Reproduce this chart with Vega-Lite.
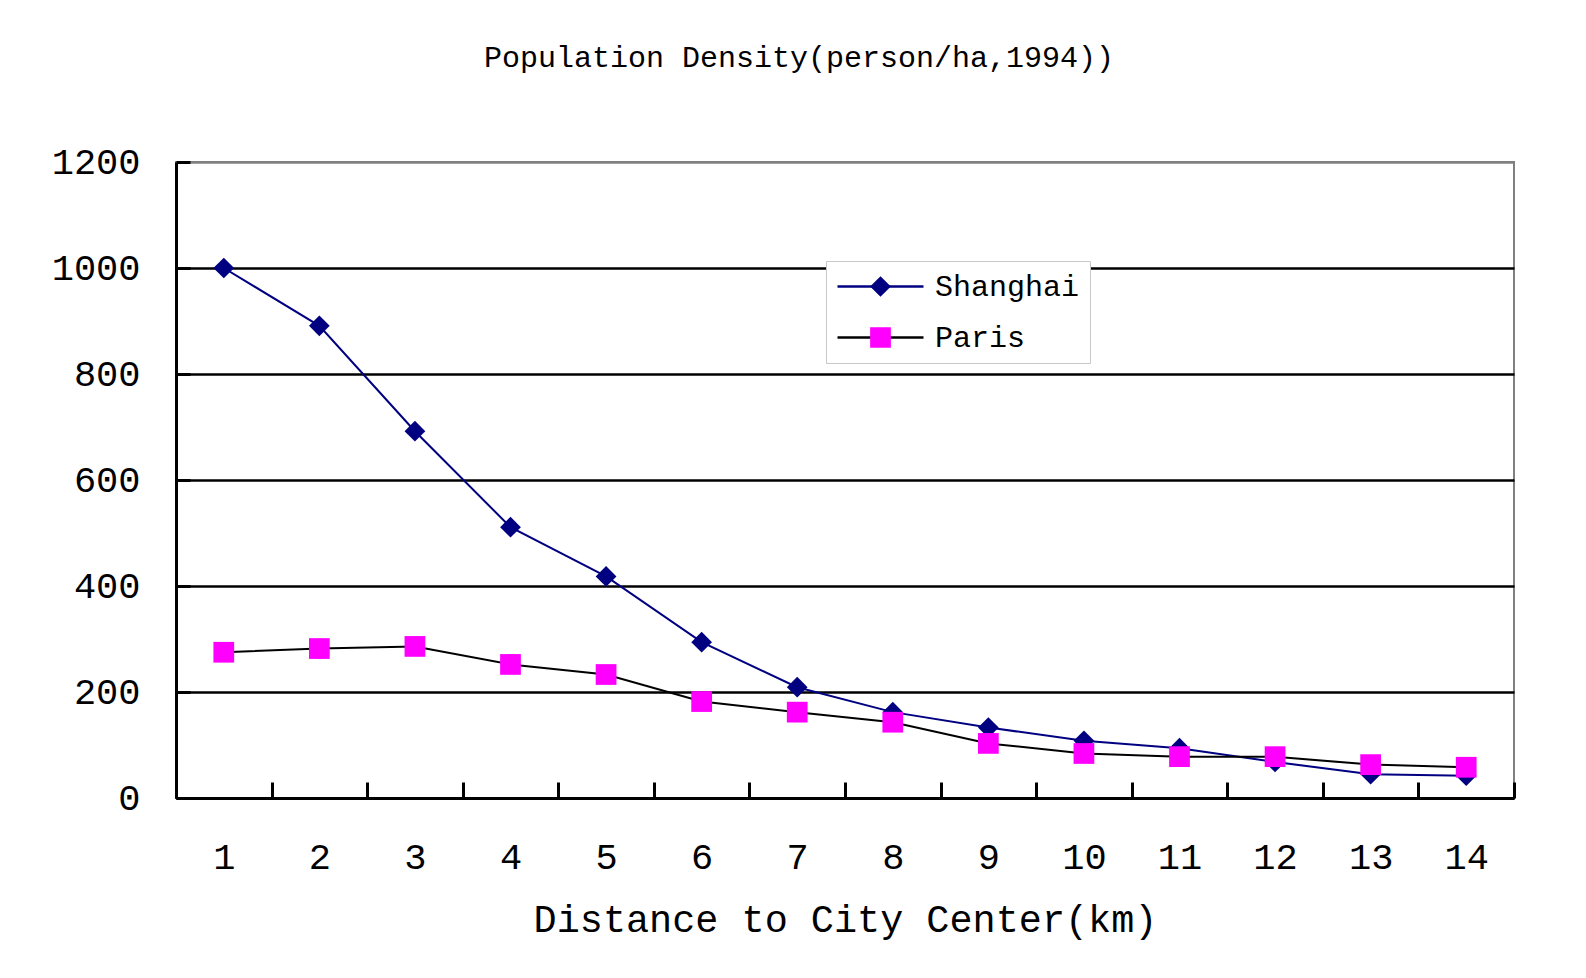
{
  "$schema": "https://vega.github.io/schema/vega-lite/v6.json",
  "autosize": "none",
  "width": 1338,
  "height": 636,
  "padding": {"left": 176, "top": 162, "right": 72, "bottom": 180},
  "background": "white",
  "title": {
    "text": "Population Density(person/ha,1994))",
    "font": "Liberation Mono",
    "fontSize": 30,
    "fontWeight": "normal",
    "color": "black",
    "anchor": "middle",
    "offset": 70,
    "dx": -46
  },
  "config": {
    "view": {"stroke": "#808080", "strokeWidth": 2},
    "font": "Liberation Mono"
  },
  "data": {
    "values": [
      {"km": 1, "series": "Shanghai", "density": 1000},
      {"km": 2, "series": "Shanghai", "density": 891},
      {"km": 3, "series": "Shanghai", "density": 692},
      {"km": 4, "series": "Shanghai", "density": 511},
      {"km": 5, "series": "Shanghai", "density": 418},
      {"km": 6, "series": "Shanghai", "density": 294},
      {"km": 7, "series": "Shanghai", "density": 209},
      {"km": 8, "series": "Shanghai", "density": 162},
      {"km": 9, "series": "Shanghai", "density": 133},
      {"km": 10, "series": "Shanghai", "density": 108},
      {"km": 11, "series": "Shanghai", "density": 94},
      {"km": 12, "series": "Shanghai", "density": 68},
      {"km": 13, "series": "Shanghai", "density": 45},
      {"km": 14, "series": "Shanghai", "density": 42},
      {"km": 1, "series": "Paris", "density": 275},
      {"km": 2, "series": "Paris", "density": 282},
      {"km": 3, "series": "Paris", "density": 286},
      {"km": 4, "series": "Paris", "density": 252},
      {"km": 5, "series": "Paris", "density": 233},
      {"km": 6, "series": "Paris", "density": 182},
      {"km": 7, "series": "Paris", "density": 162},
      {"km": 8, "series": "Paris", "density": 143},
      {"km": 9, "series": "Paris", "density": 103},
      {"km": 10, "series": "Paris", "density": 84},
      {"km": 11, "series": "Paris", "density": 78},
      {"km": 12, "series": "Paris", "density": 78},
      {"km": 13, "series": "Paris", "density": 63},
      {"km": 14, "series": "Paris", "density": 58}
    ]
  },
  "encoding": {
    "x": {
      "field": "km",
      "type": "ordinal",
      "scale": {"type": "band", "paddingInner": 0, "paddingOuter": 0},
      "axis": {
        "title": "Distance to City Center(km)",
        "titleFont": "Liberation Mono",
        "titleFontSize": 38.5,
        "titleFontWeight": "normal",
        "titleColor": "black",
        "titlePadding": 26,
        "tickBand": "extent",
        "tickSize": -16,
        "tickColor": "black",
        "tickWidth": 3,
        "domainColor": "black",
        "domainWidth": 3,
        "labelAngle": 0,
        "labelFont": "Liberation Mono",
        "labelFontSize": 37,
        "labelColor": "black",
        "labelPadding": 57,
        "grid": false
      }
    },
    "y": {
      "field": "density",
      "type": "quantitative",
      "scale": {"domain": [0, 1200], "nice": false},
      "axis": {
        "title": null,
        "format": "d",
        "values": [0, 200, 400, 600, 800, 1000, 1200],
        "grid": true,
        "gridColor": {"condition": {"test": "datum.value === 1200", "value": "#808080"}, "value": "black"},
        "gridWidth": 2.5,
        "tickSize": -14,
        "tickColor": "black",
        "tickWidth": 3,
        "domainColor": "black",
        "domainWidth": 3,
        "labelFont": "Liberation Mono",
        "labelFontSize": 37,
        "labelColor": "black",
        "labelPadding": 50
      }
    }
  },
  "layer": [
    {
      "mark": {"type": "line", "strokeWidth": 2},
      "encoding": {
        "color": {
          "field": "series",
          "type": "nominal",
          "scale": {"domain": ["Shanghai", "Paris"], "range": ["#000080", "#000000"]},
          "legend": {
            "orient": "none",
            "legendX": 650,
            "legendY": 99,
            "title": null,
            "symbolType": "stroke",
            "symbolSize": 7396,
            "symbolStrokeWidth": 2.5,
            "clipHeight": 31,
            "labelFont": "Liberation Mono",
            "labelFontSize": 30,
            "labelColor": "black",
            "labelOffset": 10,
            "rowPadding": 20,
            "padding": 10,
            "strokeColor": "#c8c8c8",
            "fillColor": "white",
            "zindex": 1
          }
        }
      }
    },
    {
      "mark": {"type": "point", "filled": true, "opacity": 1, "strokeWidth": 0, "size": 430},
      "encoding": {
        "fill": {
          "field": "series",
          "type": "nominal",
          "scale": {"range": ["#FF00FF", "#000080"]},
          "legend": {
            "orient": "none",
            "legendX": 679.5,
            "legendY": 99,
            "title": null,
            "values": ["Shanghai", "Paris"],
            "symbolSize": 430,
            "symbolStrokeWidth": 0,
            "clipHeight": 31,
            "labelExpr": "''",
            "labelFontSize": 30,
            "labelOffset": 0,
            "rowPadding": 20,
            "padding": 10,
            "zindex": 2
          }
        },
        "shape": {
          "field": "series",
          "type": "nominal",
          "scale": {"range": ["square", "diamond"]},
          "legend": {
            "orient": "none",
            "legendX": 679.5,
            "legendY": 99,
            "title": null,
            "values": ["Shanghai", "Paris"],
            "symbolSize": 430,
            "symbolStrokeWidth": 0,
            "clipHeight": 31,
            "labelExpr": "''",
            "labelFontSize": 30,
            "labelOffset": 0,
            "rowPadding": 20,
            "padding": 10,
            "zindex": 2
          }
        }
      }
    }
  ]
}
